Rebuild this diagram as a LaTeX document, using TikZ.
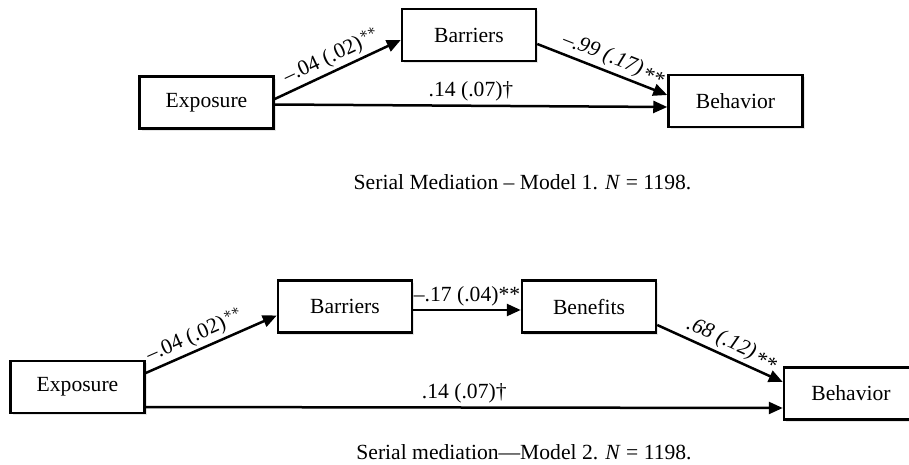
\documentclass[tikz,border=0pt]{standalone}
\usepackage{fontspec}
\setmainfont{Liberation Serif}
\usetikzlibrary{arrows.meta, shadows}
\tikzset{
var/.style={draw, line width=1.25pt, fill=white, minimum width=67pt, minimum height=26pt,
  drop shadow={opacity=.2, shadow xshift=1.2pt, shadow yshift=-1.2pt}}, % the boxes
link/.style={-{Triangle[length=7pt,width=6pt]}, line width=1.25pt}, % the arrows
coef/.style={inner sep=1.5pt}, % the labels on the arrows
}

\begin{document}
\begin{tikzpicture}[x=0.5pt, y=-0.5pt, font=\fontsize{10.8}{12.5}\selectfont]
        \useasboundingbox (0,0) rectangle (909,465);
        % model 1
        \node[var] (expo1) at (206.5,102.5) {Exposure};
        \node[var] (barr1) at (469,35) {Barriers};
        \node[var] (behav1) at (735.5,101) {Behavior};
        \draw[link] ([yshift=1.75pt]expo1.east) -- node[coef, sloped, above] {–.04 (.02)\kern.6pt$^{**}$} ([yshift=-2.5pt]barr1.west);
        \draw[link] ([yshift=-4.5pt]barr1.east) -- node[coef, sloped, above, pos=.55] {\itshape –.99 (.17)\kern1pt\raisebox{-.45ex}{**}} ([yshift=3pt]behav1.west);
        \draw[link] ([yshift=-1pt]expo1.east) -- node[coef, above] {.14 (.07)†} ([yshift=-3pt]behav1.west);
        \node[anchor=base] (cap1) at (522.5,189) {Serial Mediation – Model 1. \textit{N} = 1198.};
        % model 2
        \node[var] (expo2) at (77.5,387) {Exposure};
        \node[var] (barr2) at (345,306.5) {Barriers};
        \node[var] (bene2) at (589,306.5) {Benefits};
        \node[var] (behav2) at (851,393.5) {Behavior};
        \draw[link] ([yshift=7pt]expo2.east) -- node[coef, sloped, above, pos=.42] {–.04 (.02)\kern.6pt$^{**}$} ([yshift=-4.5pt]barr2.west);
        \draw[link] ([yshift=-1.75pt]barr2.east) -- node[coef, above] {–.17 (.04)**} ([yshift=-1.75pt]bene2.west);
        \draw[link] ([yshift=-9.25pt]bene2.east) -- node[coef, sloped, above, pos=.55] {\itshape .68 (.12)\kern1pt\raisebox{-.45ex}{**}} ([yshift=5.75pt]behav2.west);
        \draw[link] ([yshift=-10pt]expo2.east) -- node[coef, above] {.14 (.07)†} ([yshift=-7.25pt]behav2.west);
        \node[anchor=base] (cap2) at (524,459) {Serial mediation—Model 2. \textit{N} = 1198.};
    \end{tikzpicture}
\end{document}
